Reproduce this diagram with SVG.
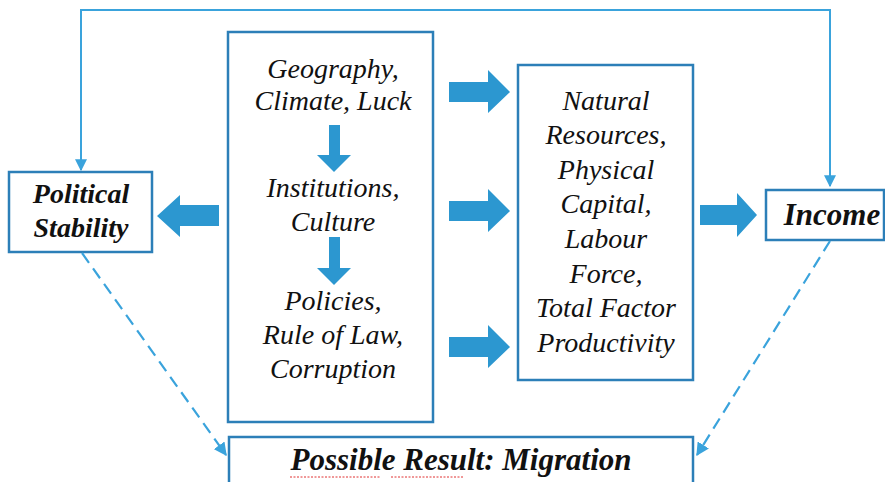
<svg xmlns="http://www.w3.org/2000/svg" width="885" height="482" viewBox="0 0 885 482">
<style>
.box{fill:#fff;stroke:#2C7FB8;stroke-width:2.5}
.t{font-family:"Liberation Serif","Times New Roman",serif;font-style:italic;font-size:28px;fill:#111;text-anchor:middle}
.b{font-weight:bold}
.ba{fill:#2C97D0}
.ln{fill:none;stroke:#3AA3DC;stroke-width:2}
.dash{fill:none;stroke:#3AA3DC;stroke-width:2.2;stroke-dasharray:12 7}
</style>
<defs>
<marker id="ah" viewBox="0 0 10 10" refX="9" refY="5" markerWidth="6" markerHeight="6" orient="auto" markerUnits="strokeWidth">
<path d="M0,0 L10,5 L0,10 z" fill="#3AA3DC"/>
</marker>
</defs>
<g id="political-stability">
<rect class="box" x="9" y="172" width="143" height="80"/>
<text class="t b" x="81" y="203">Political</text>
<text class="t b" x="81" y="237">Stability</text>
</g>
<g id="determinants">
<rect class="box" x="228" y="32" width="205" height="390"/>
<text class="t" x="333" y="78">Geography,</text>
<text class="t" x="333" y="110">Climate, Luck</text>
<text class="t" x="333" y="197">Institutions,</text>
<text class="t" x="333" y="231">Culture</text>
<text class="t" x="333" y="310">Policies,</text>
<text class="t" x="333" y="344">Rule of Law,</text>
<text class="t" x="333" y="378">Corruption</text>
</g>
<g id="factors">
<rect class="box" x="518" y="65" width="175" height="315"/>
<text class="t" x="606" y="110">Natural</text>
<text class="t" x="606" y="144">Resources,</text>
<text class="t" x="606" y="179">Physical</text>
<text class="t" x="606" y="213">Capital,</text>
<text class="t" x="606" y="248">Labour</text>
<text class="t" x="606" y="283">Force,</text>
<text class="t" x="606" y="317">Total Factor</text>
<text class="t" x="606" y="352">Productivity</text>
</g>
<g id="income">
<rect class="box" x="766" y="190" width="118" height="50"/>
<text class="t b" x="832" y="225" style="font-size:31px">Income</text>
</g>
<g id="migration">
<rect class="box" x="229" y="437" width="464" height="60"/>
<text class="t b" x="461" y="470" style="font-size:31px">Possible Result: Migration</text>
<path d="M290,477 H381 M391,477 H463" fill="none" stroke="#e03030" stroke-width="1" stroke-dasharray="2 1.5"/>
</g>
<g id="connectors">
<path class="ln" d="M81,170 V10 H830 V186" marker-end="url(#ah)"/>
<path class="ln" d="M81,20 V170" marker-end="url(#ah)"/>
<line class="dash" x1="82" y1="253" x2="226" y2="455" marker-end="url(#ah)"/>
<line class="dash" x1="830" y1="241" x2="697" y2="455" marker-end="url(#ah)"/>
<path class="ba" d="M329,125 H340 V155 H351 L334,172 L317,155 H329 Z"/>
<path class="ba" d="M329,237 H340 V268 H351 L334,285 L317,268 H329 Z"/>
<path class="ba" d="M449,82 H488 V70 L510,92 L488,113 V102 H449 Z"/>
<path class="ba" d="M449,201 H488 V189 L510,211 L488,232 V221 H449 Z"/>
<path class="ba" d="M449,337 H488 V325 L510,347 L488,368 V357 H449 Z"/>
<path class="ba" d="M700,205 H737 V193 L757,215 L737,237 V225 H700 Z"/>
<path class="ba" d="M219,205 H180 V195 L157,216 L180,237 V226 H219 Z"/>
</g>
</svg>
